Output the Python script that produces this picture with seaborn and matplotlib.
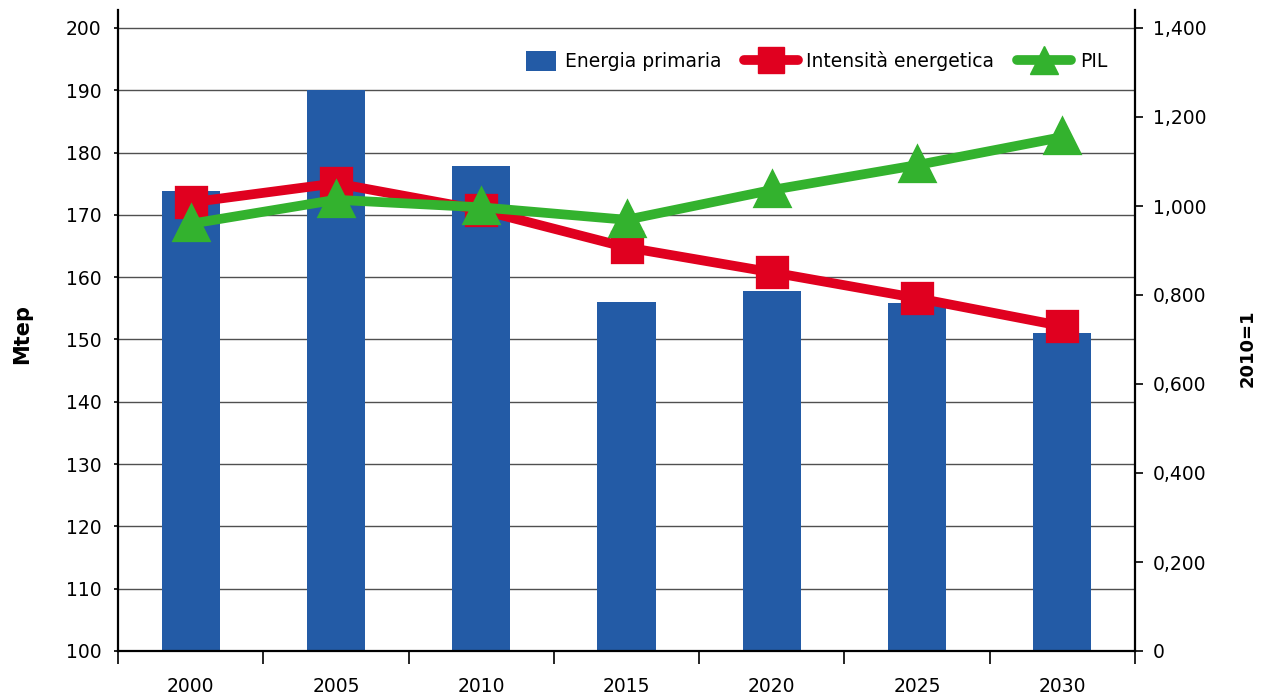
import numpy as np
import pandas as pd
import matplotlib
matplotlib.use("Agg")
import matplotlib.pyplot as plt
import seaborn as sns
from matplotlib.lines import Line2D
from matplotlib.patches import Patch, Rectangle
from matplotlib.legend_handler import HandlerPatch
from matplotlib.ticker import FixedLocator, FuncFormatter

years = ["2000", "2005", "2010", "2015", "2020", "2025", "2030"]
energia_primaria = [173.8, 190.0, 177.8, 156.0, 157.8, 155.9, 151.0]
intensita = [1.008, 1.051, 0.991, 0.907, 0.851, 0.793, 0.730]
pil = [0.960, 1.014, 0.997, 0.969, 1.036, 1.092, 1.155]

BLUE = "#235BA6"
RED = "#E0001F"
GREEN = "#33B22E"

sns.set_theme(style="white")
plt.rcParams["font.family"] = ["DejaVu Sans"]
plt.rcParams["text.color"] = "black"
plt.rcParams["xtick.labelcolor"] = "black"
plt.rcParams["ytick.labelcolor"] = "black"
FS = 13.5

df = pd.DataFrame({"anno": years, "energia": energia_primaria,
                   "intensita": intensita, "pil": pil})

fig = plt.figure(figsize=(12.61, 6.97), dpi=100)
ax = fig.add_axes([118/1261, 46/697, (1135-118)/1261, (651-10)/697])

sns.barplot(data=df, x="anno", y="energia", color=BLUE, width=0.4,
            saturation=1, linewidth=0, ax=ax, zorder=2)
ax.set_ylim(100, 200 + (28-10)/6.23)
ax.set_xlim(-0.5, 6.5)
ax.set_yticks(np.arange(100, 201, 10))
ax.yaxis.grid(True, color="#505050", linewidth=1.0, zorder=0)
ax.set_axisbelow(True)
ax.tick_params(axis="y", direction="out", length=3, width=1.2, color="black",
               labelcolor="black", pad=9, labelsize=FS, left=True)
ax.tick_params(axis="x", which="major", length=0, pad=19, labelsize=FS,
               labelcolor="black")
ax.xaxis.set_minor_locator(FixedLocator(np.arange(-0.5, 7.0, 1.0)))
ax.tick_params(axis="x", which="minor", direction="out", length=9, width=1.2,
               color="black", bottom=True)
ax.set_xlabel("")
ax.set_ylabel("")
fig.text(22/1261, 1 - 334/697, "Mtep", rotation=90, ha="center", va="center",
         fontsize=15, fontweight="bold", color="black")
for s in ["top", "right"]:
    ax.spines[s].set_visible(False)
for s in ["left", "bottom"]:
    ax.spines[s].set_color("black")
    ax.spines[s].set_linewidth(1.6)

ax2 = ax.twinx()
sns.pointplot(data=df, x="anno", y="intensita", color=RED, markers="s",
              markersize=19, linewidth=7, ax=ax2, errorbar=None)
sns.pointplot(data=df, x="anno", y="pil", color=GREEN, markers="^",
              markersize=20, linewidth=7, ax=ax2, errorbar=None)
ax2.set_xlim(-0.5, 6.5)
ax2.set_ylim(0, 1.4 * (651-10) / (651-28))
ax2.set_yticks(np.arange(0, 1.41, 0.2))


def fmt(v, p):
    if abs(v) < 1e-9:
        return "0"
    return f"{v:.3f}".replace(".", ",")


ax2.yaxis.set_major_formatter(FuncFormatter(fmt))
ax2.tick_params(axis="y", direction="out", length=6, width=1.2, color="black",
                labelcolor="black", pad=7, labelsize=FS, right=True)
ax2.set_ylabel("")
ax2.set_xlabel("")
fig.text(1248/1261, 1 - 348/697, "2010=1", rotation=90, ha="center", va="center",
         fontsize=13, fontweight="bold", color="black")
for s in ["top", "left", "bottom"]:
    ax2.spines[s].set_visible(False)
ax2.spines["right"].set_color("black")
ax2.spines["right"].set_linewidth(1.6)
ax2.grid(False)


class RightSquare(HandlerPatch):
    def create_artists(self, legend, orig_handle, xdescent, ydescent,
                       width, height, fontsize, trans):
        w, h = 22.0, 14.5
        r = Rectangle((-xdescent + width - w, -ydescent + (height - h) / 2), w, h,
                      facecolor=orig_handle.get_facecolor(), edgecolor="none",
                      transform=trans)
        return [r]


handles = [
    Patch(facecolor=BLUE, label="Energia primaria"),
    Line2D([], [], color=RED, lw=7, marker="s", markersize=19, label="Intensità energetica"),
    Line2D([], [], color=GREEN, lw=7, marker="^", markersize=20, label="PIL"),
]
leg = ax2.legend(handles=handles, loc="upper right", ncol=3, frameon=False,
                 bbox_to_anchor=(0.98, 0.947), fontsize=FS, handlelength=2.9,
                 handleheight=1.2, columnspacing=1.2, handletextpad=0.45,
                 borderaxespad=0.0, handler_map={Patch: RightSquare()})
for t in leg.get_texts():
    t.set_color("black")

fig.savefig("out.png", dpi=100)
